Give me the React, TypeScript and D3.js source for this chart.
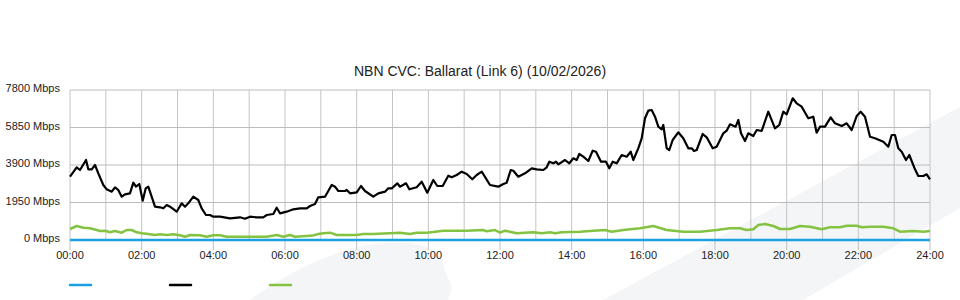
import React from "react";
import * as d3 from "d3";

const title = "NBN CVC: Ballarat (Link 6) (10/02/2026)";
const yTicks = [0, 1950, 3900, 5850, 7800];
const xTickHours = [0, 2, 4, 6, 8, 10, 12, 14, 16, 18, 20, 22, 24];
const xTickLabels = ["00:00", "02:00", "04:00", "06:00", "08:00", "10:00", "12:00", "14:00", "16:00", "18:00", "20:00", "22:00", "24:00"];
const gridHours = d3.range(0, 25);

// [hour, Mbps]
const blackSeries: [number, number][] = [
  [0.0, 3292], [0.187, 3780], [0.279, 3640], [0.447, 4160], [0.511, 3676], [0.606, 3676], [0.698, 3900],
  [0.79, 3468], [0.929, 2860], [1.024, 2636], [1.164, 2512], [1.256, 2740], [1.348, 2600], [1.443, 2252],
  [1.535, 2376], [1.674, 2428], [1.767, 2980], [1.842, 2772], [1.934, 2912], [2.029, 2044], [2.113, 2688],
  [2.185, 2772], [2.372, 1732], [2.512, 1700], [2.604, 1648], [2.699, 1820], [2.791, 1732], [2.978, 1472],
  [3.117, 1908], [3.209, 1732], [3.301, 1908], [3.441, 2252], [3.58, 2080], [3.675, 1648], [3.795, 1300],
  [3.907, 1300], [3.999, 1212], [4.186, 1212], [4.465, 1128], [4.744, 1180], [4.884, 1108], [5.023, 1212],
  [5.21, 1180], [5.394, 1180], [5.489, 1300], [5.673, 1352], [5.768, 1680], [5.86, 1388], [6.047, 1472],
  [6.232, 1596], [6.419, 1648], [6.606, 1648], [6.698, 1768], [6.837, 1872], [6.929, 2220], [7.116, 2252],
  [7.303, 2860], [7.395, 2772], [7.488, 2548], [7.674, 2548], [7.722, 2600], [7.814, 2428], [8.001, 2480],
  [8.121, 2808], [8.233, 2548], [8.464, 2252], [8.604, 2428], [8.791, 2512], [8.883, 2688], [8.978, 2688],
  [9.134, 2948], [9.209, 2772], [9.377, 2948], [9.469, 2636], [9.675, 2740], [9.815, 3032], [9.971, 2460],
  [10.139, 3120], [10.25, 2808], [10.401, 2808], [10.557, 3344], [10.652, 3260], [10.791, 3380], [10.931, 3552],
  [11.071, 3432], [11.227, 3156], [11.35, 3380], [11.49, 3552], [11.721, 2860], [11.953, 2772], [12.093, 2912],
  [12.187, 2980], [12.299, 3640], [12.372, 3604], [12.511, 3292], [12.698, 3468], [12.885, 3728], [13.024, 3676],
  [13.209, 3640], [13.303, 3780], [13.376, 4072], [13.488, 3988], [13.563, 4072], [13.627, 3936], [13.814, 4160],
  [13.934, 3988], [14.046, 4248], [14.141, 4160], [14.213, 4472], [14.325, 4332], [14.465, 4108], [14.587, 4644],
  [14.679, 4592], [14.819, 4072], [14.958, 4072], [15.05, 3728], [15.145, 4072], [15.256, 3988], [15.396, 4420],
  [15.535, 4332], [15.647, 4592], [15.72, 4160], [15.859, 4768], [15.954, 5288], [16.046, 6328], [16.138, 6724],
  [16.233, 6760], [16.326, 6412], [16.418, 5892], [16.513, 5756], [16.557, 5980], [16.652, 4768], [16.725, 4680],
  [16.819, 5200], [16.975, 5600], [17.115, 5288], [17.255, 4768], [17.35, 4768], [17.414, 4628], [17.489, 4680],
  [17.657, 5512], [17.768, 5340], [17.935, 4768], [18.047, 4852], [18.232, 5548], [18.325, 5684], [18.419, 6016],
  [18.577, 5892], [18.651, 6240], [18.726, 5548], [18.837, 5148], [18.93, 5548], [19.069, 5408], [19.164, 5720],
  [19.303, 5668], [19.487, 6672], [19.674, 5808], [19.794, 5980], [19.906, 6672], [20.0, 6536], [20.168, 7368],
  [20.279, 7108], [20.419, 6932], [20.603, 6328], [20.743, 6412], [20.837, 5580], [20.93, 5892], [21.07, 5892],
  [21.229, 6380], [21.349, 6068], [21.536, 5928], [21.675, 6068], [21.815, 5720], [21.954, 6448], [22.066, 6672],
  [22.186, 6412], [22.326, 5372], [22.465, 5288], [22.697, 5112], [22.837, 4852], [22.931, 5460], [23.023, 5460],
  [23.115, 4768], [23.21, 4592], [23.33, 4160], [23.422, 4420], [23.581, 3676], [23.673, 3328], [23.813, 3328],
  [23.908, 3416], [24.0, 3156],
];

const greenSeries: [number, number][] = [
  [0, 572], [0.187, 728], [0.371, 640], [0.558, 608], [0.745, 520], [0.837, 468], [0.977, 484], [1.116, 400],
  [1.256, 468], [1.443, 380], [1.582, 520], [1.722, 520], [1.861, 400], [2.001, 348], [2.185, 312], [2.372, 260],
  [2.512, 296], [2.699, 260], [2.883, 296], [3.07, 244], [3.209, 172], [3.349, 260], [3.628, 244], [3.815, 172],
  [3.999, 244], [4.186, 244], [4.373, 172], [4.744, 172], [5.21, 172], [5.489, 172], [5.768, 260], [5.953, 172],
  [6.14, 260], [6.279, 172], [6.79, 240], [6.929, 312], [7.069, 348], [7.256, 380], [7.443, 260], [8.001, 260],
  [8.185, 312], [8.464, 312], [9.209, 380], [9.488, 312], [9.675, 380], [9.954, 380], [10.139, 416], [10.418, 484],
  [11.071, 484], [11.534, 520], [11.629, 450], [11.86, 520], [12.0, 380], [12.14, 484], [12.466, 348], [12.93, 400],
  [13.164, 348], [13.395, 400], [13.535, 348], [13.722, 400], [14.233, 432], [14.604, 484], [14.93, 520], [15.117, 432],
  [15.441, 520], [15.907, 608], [16.279, 728], [16.652, 520], [17.115, 432], [17.581, 432], [18.047, 520], [18.419, 608],
  [18.698, 608], [18.884, 520], [19.069, 560], [19.209, 780], [19.395, 832], [19.627, 728], [19.814, 572], [20.093, 572],
  [20.372, 728], [20.651, 692], [20.977, 556], [21.209, 660], [21.488, 660], [21.675, 744], [21.954, 744], [22.093, 660],
  [22.326, 692], [22.697, 692], [22.976, 608], [23.163, 432], [23.534, 468], [23.813, 432], [24, 468],
];

const blueSeries: [number, number][] = [[0, 0], [24, 0]];

const seriesColors = ["#1ba1e2", "#000000", "#84c341"];

export default function App() {
  const W = 960, H = 300;
  const x = d3.scaleLinear().domain([0, 24]).range([70, 930]);
  const y = d3.scaleLinear().domain([0, 7800]).range([240, 90]);
  const line = d3.line<[number, number]>().x(d => x(d[0])).y(d => y(d[1]));
  const font = "'Liberation Sans', Arial, sans-serif";
  const legendX = [70, 170, 270];

  return (
    <svg width={W} height={H} style={{ position: "absolute", left: 0, top: 0, background: "#fff" }} fontFamily={font}>
      {/* watermark */}
      <path d="M250,300 Q315,252 380,243 Q432,238 442,262 L452,288 L448,300 Z" fill="#f4f5f7" />
      <path d="M603,300 L960,107 L960,208 L803,300 Z" fill="#f4f5f7" />

      <text x={480} y={76} textAnchor="middle" fontSize={14} fill="#222">{title}</text>

      {/* grid */}
      {gridHours.map(h => (
        <line key={"v" + h} x1={x(h)} x2={x(h)} y1={y(7800)} y2={y(0)} stroke="#c4c4c4" strokeWidth={1} />
      ))}
      {yTicks.map(v => (
        <line key={"h" + v} x1={x(0)} x2={x(24)} y1={y(v)} y2={y(v)} stroke="#bcbcbc" strokeWidth={1} />
      ))}
      {xTickHours.map(h => (
        <line key={"t" + h} x1={x(h)} x2={x(h)} y1={y(0)} y2={y(0) + 10} stroke="#c0c0c0" strokeWidth={1} />
      ))}

      {yTicks.map(v => (
        <text key={"yl" + v} x={60} y={y(v) + 2} textAnchor="end" fontSize={11} fill="#222">{v} Mbps</text>
      ))}
      {xTickHours.map((h, i) => (
        <text key={"xl" + h} x={x(h)} y={259} textAnchor="middle" fontSize={11} fill="#222">{xTickLabels[i]}</text>
      ))}

      {/* series */}
      <path d={line(greenSeries) || ""} fill="none" stroke={seriesColors[2]} strokeWidth={2.5} strokeLinejoin="round" />
      <path d={line(blackSeries) || ""} fill="none" stroke={seriesColors[1]} strokeWidth={2.2} strokeLinejoin="round" />
      <path d={line(blueSeries) || ""} fill="none" stroke={seriesColors[0]} strokeWidth={2.5} />

      {/* legend */}
      {seriesColors.map((c, i) => (
        <line key={"lg" + i} x1={legendX[i]} x2={legendX[i] + 21} y1={285} y2={285} stroke={c} strokeWidth={2.5} strokeLinecap="round" />
      ))}
    </svg>
  );
}
